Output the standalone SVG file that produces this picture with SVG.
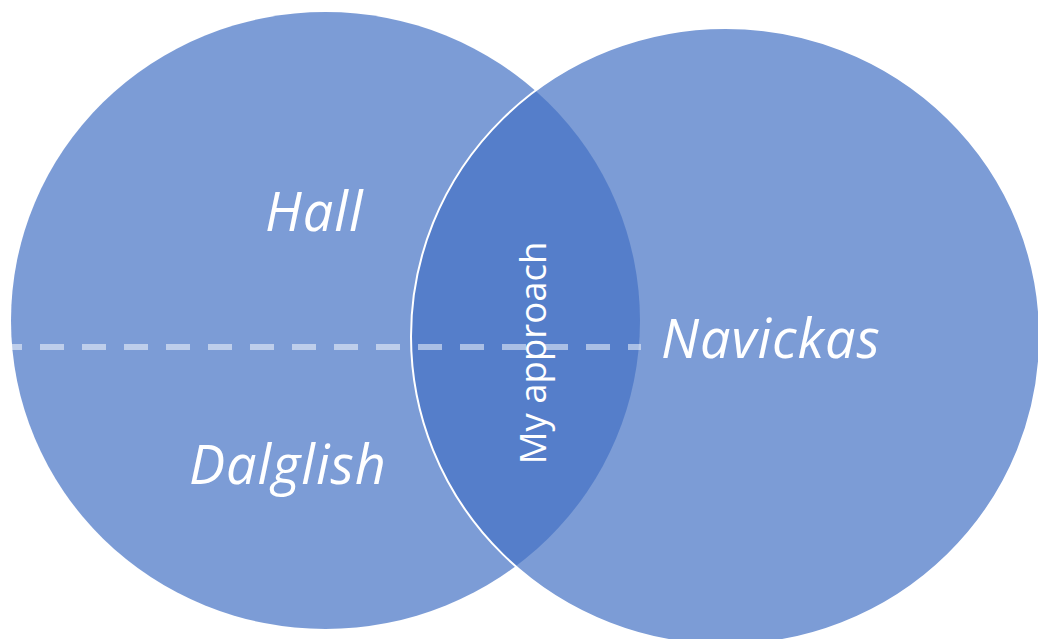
<svg xmlns="http://www.w3.org/2000/svg" width="1038" height="639" viewBox="0 0 1038 639">
  <style>
    .set { fill: #4472C4; fill-opacity: 0.7; }
    .lbl { font-family: "Open Sans", "Liberation Sans", sans-serif; fill: #FFFFFF; font-style: italic; font-size: 54px; letter-spacing: 1px; }
    .mid { font-family: "Open Sans", "Liberation Sans", sans-serif; fill: #FFFFFF; font-size: 36.5px; }
  </style>
  <rect width="1038" height="639" fill="#FFFFFF"/>
  <g id="left-set">
    <ellipse class="set" cx="325.5" cy="320.5" rx="314.5" ry="308.5"/>
  </g>
  <g id="right-set">
    <ellipse class="set" cx="725.5" cy="336.5" rx="314.5" ry="308.5" stroke="#FFFFFF" stroke-width="2"/>
  </g>
  <g id="connectors">
    <line x1="12" y1="347" x2="641" y2="347" stroke="#FFFFFF" stroke-opacity="0.5" stroke-width="6" stroke-dasharray="24 18" stroke-dashoffset="14"/>
  </g>
  <g id="hall">
    <text class="lbl" x="265" y="231">Hall</text>
  </g>
  <g id="dalglish">
    <text class="lbl" x="189" y="484">Dalglish</text>
  </g>
  <g id="navickas">
    <text class="lbl" x="661" y="358">Navickas</text>
  </g>
  <g id="my-approach">
    <text class="mid" text-anchor="middle" transform="translate(546 353) rotate(-90)">My approach</text>
  </g>
</svg>
